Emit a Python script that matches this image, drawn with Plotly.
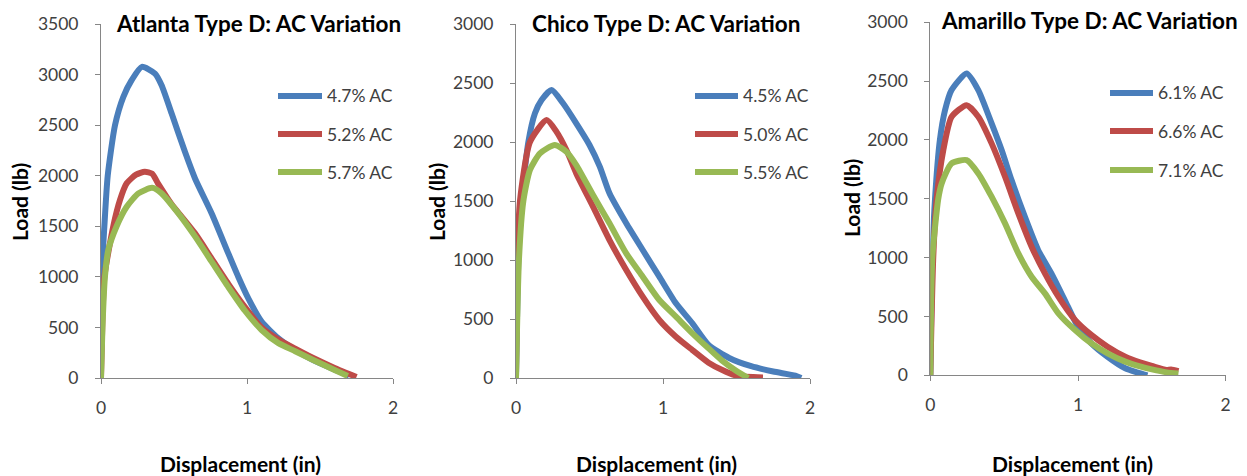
import plotly.graph_objects as go

W, H = 1247, 476

# ---------------- data ----------------
titles = ["Atlanta Type D: AC Variation", "Chico Type D: AC Variation", "Amarillo Type D: AC Variation"]
y_max = [3500, 3000, 3000]
x_ticks = [0, 1, 2]

# Atlanta
atl_names = ["4.7% AC", "5.2% AC", "5.7% AC"]
atl_x1 = [0, 0.005, 0.023, 0.046, 0.096, 0.153, 0.21, 0.28, 0.37, 0.415, 0.484, 0.575, 0.644, 0.758, 0.872, 0.94, 1.009, 1.10, 1.215, 1.33, 1.45, 1.59, 1.70]
atl_y1 = [0, 1000, 1500, 2000, 2500, 2780, 2945, 3076, 3010, 2895, 2615, 2236, 1973, 1627, 1232, 1001, 787, 557, 392, 277, 180, 90, 25]
atl_x2 = [0, 0.01, 0.023, 0.084, 0.13, 0.176, 0.24, 0.30, 0.35, 0.39, 0.48, 0.644, 0.758, 0.872, 0.986, 1.10, 1.215, 1.33, 1.45, 1.6, 1.75]
atl_y2 = [0, 600, 1000, 1500, 1760, 1925, 2010, 2040, 2020, 1925, 1726, 1430, 1180, 930, 700, 500, 380, 290, 200, 100, 10]
atl_x3 = [0, 0.01, 0.027, 0.05, 0.107, 0.176, 0.256, 0.35, 0.415, 0.53, 0.644, 0.758, 0.872, 0.986, 1.10, 1.215, 1.33, 1.45, 1.6, 1.69]
atl_y3 = [0, 500, 1000, 1265, 1500, 1693, 1825, 1880, 1825, 1627, 1400, 1150, 900, 665, 475, 345, 265, 180, 80, 20]

# Chico
chi_names = ["4.5% AC", "5.0% AC", "5.5% AC"]
chi_x1 = [0, 0.016, 0.038, 0.084, 0.129, 0.174, 0.242, 0.32, 0.41, 0.50, 0.57, 0.636, 0.75, 0.862, 0.975, 1.088, 1.2, 1.31, 1.45, 1.6, 1.75, 1.9, 1.94]
chi_y1 = [0, 1000, 1500, 2000, 2243, 2356, 2440, 2328, 2158, 1975, 1791, 1565, 1311, 1085, 859, 633, 463, 280, 170, 100, 55, 20, 0]
chi_x2 = [0, 0.009, 0.027, 0.095, 0.208, 0.275, 0.343, 0.41, 0.524, 0.636, 0.75, 0.862, 0.975, 1.088, 1.2, 1.31, 1.4, 1.5, 1.68]
chi_y2 = [0, 1000, 1500, 2000, 2186, 2088, 1932, 1734, 1452, 1169, 915, 689, 492, 350, 237, 130, 70, 20, 5]
chi_x3 = [0, 0.02, 0.05, 0.095, 0.163, 0.264, 0.343, 0.41, 0.524, 0.636, 0.75, 0.862, 0.975, 1.088, 1.2, 1.31, 1.4, 1.5, 1.58]
chi_y3 = [0, 1000, 1500, 1763, 1904, 1975, 1918, 1805, 1551, 1311, 1056, 859, 661, 520, 379, 251, 150, 60, 0]

# Amarillo
ama_names = ["6.1% AC", "6.6% AC", "7.1% AC"]
ama_x1 = [0, 0.014, 0.032, 0.065, 0.1, 0.144, 0.246, 0.325, 0.415, 0.483, 0.55, 0.64, 0.73, 0.82, 0.91, 1.0, 1.09, 1.2, 1.32, 1.4, 1.47]
ama_y1 = [0, 1000, 1500, 2000, 2254, 2424, 2565, 2424, 2141, 1914, 1659, 1348, 1065, 866, 640, 413, 272, 158, 60, 25, 0]
ama_x2 = [0, 0.02, 0.043, 0.088, 0.144, 0.246, 0.325, 0.415, 0.506, 0.596, 0.686, 0.776, 0.867, 0.98, 1.09, 1.2, 1.32, 1.42, 1.5, 1.6, 1.63, 1.68]
ama_y2 = [0, 1000, 1500, 1914, 2197, 2296, 2197, 1971, 1687, 1376, 1093, 866, 668, 470, 343, 243, 158, 110, 80, 45, 50, 35]
ama_x3 = [0, 0.014, 0.054, 0.077, 0.144, 0.246, 0.325, 0.415, 0.506, 0.596, 0.686, 0.776, 0.867, 0.98, 1.09, 1.2, 1.32, 1.42, 1.5, 1.6, 1.68]
ama_y3 = [0, 1000, 1500, 1631, 1801, 1829, 1716, 1518, 1291, 1036, 838, 696, 527, 385, 272, 187, 116, 75, 50, 25, 15]

panels = [
    (atl_names, [(atl_x1, atl_y1), (atl_x2, atl_y2), (atl_x3, atl_y3)]),
    (chi_names, [(chi_x1, chi_y1), (chi_x2, chi_y2), (chi_x3, chi_y3)]),
    (ama_names, [(ama_x1, ama_y1), (ama_x2, ama_y2), (ama_x3, ama_y3)]),
]

# ---------------- styling / layout ----------------
colors = ["#4A7EBB", "#BE4B48", "#98B954"]
FONT = "Lato"
AXIS_COLOR = "#868686"
TICK_COLOR = "#404040"

# plot areas in pixels: (left, right, top, bottom)
areas = [(101, 393, 24, 378), (516, 810, 24, 378), (930.3, 1225.7, 22.3, 375.3)]
# legend sample lines: (x start, x end, [row y centres])
legend_geo = [(278, 322, [96, 134, 172]), (695, 738, [96, 134, 172]), (1110, 1153, [93, 131, 170])]
title_pos = [(258.5, 23), (666, 23), (1089.5, 21)]
ytitle_pos = [(19, 202), (436, 202), (851, 198)]
xtitle_pos = [(240, 463), (656, 463), (1072, 463)]

def px(x):
    return x / W

def py(y):
    return 1 - y / H

fig = go.Figure()
layout = dict(
    width=W, height=H,
    margin=dict(l=0, r=0, t=0, b=0, pad=0, autoexpand=False),
    paper_bgcolor="white", plot_bgcolor="white",
    font=dict(family=FONT, size=17, color=TICK_COLOR),
    showlegend=False,
    annotations=[], shapes=[],
)

for i, (names, series) in enumerate(panels):
    k = "" if i == 0 else str(i + 1)
    xa, ya = "x" + k, "y" + k
    for j, ((xs, ys), nm) in enumerate(zip(series, names)):
        fig.add_trace(go.Scatter(
            x=xs, y=ys, mode="lines", name=nm,
            line=dict(color=colors[j], width=6, shape="spline", smoothing=0.6),
            xaxis=xa, yaxis=ya, hoverinfo="skip",
        ))
    l, r, t, b = areas[i]
    common = dict(
        showline=True, linecolor=AXIS_COLOR, linewidth=1,
        ticks="outside", ticklen=5, tickcolor=AXIS_COLOR, tickwidth=1,
        showgrid=False, zeroline=False, automargin=False,
        tickfont=dict(family=FONT, size=17.5, color=TICK_COLOR),
        fixedrange=True,
    )
    layout["xaxis" + k] = dict(
        domain=[px(l), px(r)], range=[0, 2], tickvals=x_ticks,
        anchor=ya, ticklabelstandoff=9, **common,
    )
    layout["yaxis" + k] = dict(
        domain=[py(b), py(t)], range=[0, y_max[i]], dtick=500,
        anchor=xa, ticklabelstandoff=13, **common,
    )
    # legend (sample line + label for each series)
    lx0, lx1, rows = legend_geo[i]
    for j, nm in enumerate(names):
        layout["shapes"].append(dict(
            type="line", xref="paper", yref="paper",
            x0=px(lx0), x1=px(lx1), y0=py(rows[j]), y1=py(rows[j]),
            line=dict(color=colors[j], width=6),
        ))
        layout["annotations"].append(dict(
            text=nm, x=px(lx1 + 3), y=py(rows[j]),
            xref="paper", yref="paper", xanchor="left", yanchor="middle",
            showarrow=False, font=dict(family=FONT, size=17.5, color=TICK_COLOR),
        ))
    tx, ty = title_pos[i]
    layout["annotations"].append(dict(
        text="<b>" + titles[i] + "</b>", x=px(tx), y=py(ty),
        xref="paper", yref="paper", xanchor="center", yanchor="middle",
        showarrow=False, font=dict(family=FONT, size=22.5, color="black"),
    ))
    yx, yy = ytitle_pos[i]
    layout["annotations"].append(dict(
        text="<b>Load (lb)</b>", x=px(yx), y=py(yy), textangle=-90,
        xref="paper", yref="paper", xanchor="center", yanchor="middle",
        showarrow=False, font=dict(family=FONT, size=21, color="black"),
    ))
    xx, xy = xtitle_pos[i]
    layout["annotations"].append(dict(
        text="<b>Displacement (in)</b>", x=px(xx), y=py(xy),
        xref="paper", yref="paper", xanchor="center", yanchor="middle",
        showarrow=False, font=dict(family=FONT, size=21, color="black"),
    ))

fig.update_layout(**layout)
fig.write_html(
    "out.html",
    config={"displayModeBar": False, "staticPlot": True},
    post_script="document.body.style.margin='0';document.body.style.overflow='hidden';",
)
